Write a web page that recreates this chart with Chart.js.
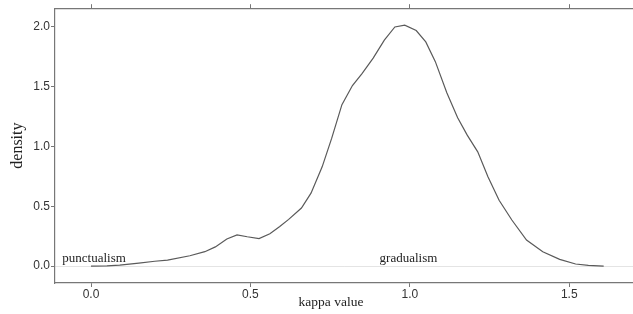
<!DOCTYPE html>
<html lang="en">
<head>
    <meta charset="UTF-8">
    <title>Kappa density</title>
    <script src="https://cdn.jsdelivr.net/npm/chart.js"></script>
    <style>
        html, body { margin: 0; padding: 0; background: #fff; }
        #wrap { width: 633px; height: 314px; }
    </style>
</head>
<body>
    <div id="wrap"><canvas id="densityChart"></canvas></div>
    <script>
        // kernel density of kappa
        const kappa = [0, 0.05, 0.09, 0.15, 0.2, 0.24, 0.31, 0.357, 0.39, 0.426, 0.458, 0.49, 0.527, 0.561,
            0.592, 0.62, 0.66, 0.69, 0.725, 0.755, 0.787, 0.82, 0.85, 0.885, 0.92, 0.953, 0.984, 1.02,
            1.05, 1.08, 1.116, 1.15, 1.18, 1.213, 1.245, 1.28, 1.32, 1.366, 1.417, 1.47, 1.52, 1.56, 1.608];
        const density = [0, 0.002, 0.008, 0.025, 0.04, 0.05, 0.086, 0.12, 0.16, 0.226, 0.26, 0.245, 0.23, 0.27,
            0.33, 0.39, 0.485, 0.61, 0.83, 1.07, 1.35, 1.51, 1.61, 1.74, 1.89, 2.0, 2.015, 1.97,
            1.875, 1.71, 1.45, 1.24, 1.095, 0.955, 0.747, 0.55, 0.385, 0.217, 0.12, 0.056, 0.017, 0.005, 0];
        const labelText = ['punctualism', 'gradualism'];
        const labelX = [-0.09, 0.905];
        const labelY = [0.035, 0.035];

        const points = kappa.map((k, i) => ({ x: k, y: density[i] }));

        const serif = '"Liberation Serif", "Times New Roman", serif';

        // region labels + x axis title (the original's title sits a bit left of centre)
        const textLabels = {
            id: 'textLabels',
            afterDatasetsDraw(chart) {
                const ctx = chart.ctx;
                const xs = chart.scales.x, ys = chart.scales.y;
                ctx.save();
                ctx.font = '13px ' + serif;
                ctx.fillStyle = '#222';
                ctx.textBaseline = 'alphabetic';
                ctx.textAlign = 'left';
                labelText.forEach((t, i) => {
                    ctx.fillText(t, xs.getPixelForValue(labelX[i]), ys.getPixelForValue(labelY[i]));
                });
                ctx.font = '13.5px ' + serif;
                ctx.textAlign = 'center';
                ctx.textBaseline = 'middle';
                ctx.fillText('kappa value', chart.chartArea.left + 276, chart.chartArea.bottom + 19);
                ctx.restore();
            }
        };

        const tickFont = { family: '"Liberation Sans", Arial, sans-serif', size: 12 };

        new Chart(document.getElementById('densityChart'), {
            type: 'line',
            data: {
                datasets: [{
                    data: points,
                    borderColor: '#5a5a5a',
                    borderWidth: 1.2,
                    pointRadius: 0,
                    tension: 0,
                    fill: false
                }]
            },
            options: {
                responsive: true,
                maintainAspectRatio: false,
                animation: false,
                layout: { padding: 0 },
                plugins: { legend: { display: false }, tooltip: { enabled: false } },
                scales: {
                    x: {
                        type: 'linear',
                        position: 'bottom',
                        min: -0.113,
                        max: 1.7,
                        afterFit: s => { s.height = 31; },
                        ticks: {
                            stepSize: 0.5,
                            includeBounds: false,
                            padding: 0,
                            color: '#333',
                            font: tickFont,
                            maxRotation: 0,
                            callback: v => v.toFixed(1)
                        },
                        grid: { drawOnChartArea: false, tickLength: 4, tickColor: '#777' },
                        border: { color: '#777', width: 1.2 }
                    },
                    x2: {
                        type: 'linear',
                        position: 'top',
                        min: -0.113,
                        max: 1.7,
                        afterFit: s => { s.height = 8; },
                        ticks: { stepSize: 0.5, includeBounds: false, display: false },
                        grid: { drawOnChartArea: false, tickLength: 4, tickColor: '#777' },
                        border: { color: '#777', width: 1.2 }
                    },
                    y: {
                        type: 'linear',
                        min: -0.142,
                        max: 2.157,
                        afterFit: s => { s.width = 55; },
                        ticks: {
                            stepSize: 0.5,
                            includeBounds: false,
                            padding: 1,
                            color: '#333',
                            font: tickFont,
                            callback: v => v.toFixed(1)
                        },
                        grid: {
                            drawOnChartArea: true,
                            tickLength: 4,
                            tickColor: '#777',
                            color: c => (c.tick && c.tick.value === 0) ? '#e4e4e4' : 'rgba(0,0,0,0)'
                        },
                        border: { color: '#777', width: 1.2 },
                        title: {
                            display: true,
                            text: 'density',
                            color: '#222',
                            font: { family: serif, size: 16 },
                            padding: { top: 8, bottom: 0 }
                        }
                    }
                }
            },
            plugins: [textLabels]
        });
    </script>
</body>
</html>
